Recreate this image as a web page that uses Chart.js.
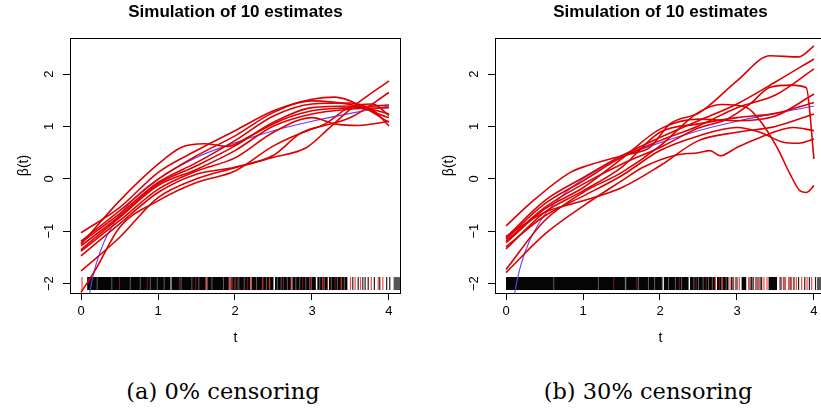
<!DOCTYPE html>
<html>
<head>
<meta charset="utf-8">
<script src="https://cdn.jsdelivr.net/npm/chart.js@4.4.0/dist/chart.umd.min.js"></script>
<style>
  html, body { margin: 0; padding: 0; background: #fff; overflow: hidden; width: 821px; height: 409px; }
  .panel { position: absolute; top: 0; }
  .cap { position: absolute; top: 378px; font-family: "DejaVu Serif", serif; font-size: 22.5px; line-height: 26px;
         white-space: nowrap; transform: translateX(-50%); color: #000; }
</style>
</head>
<body>
<canvas id="chartA" class="panel" width="410" height="350" style="left:0px"></canvas>
<canvas id="chartB" class="panel" width="410" height="350" style="left:425px"></canvas>
<div class="cap" style="left:223px">(a) 0% censoring</div>
<div class="cap" style="left:648px">(b) 30% censoring</div>
<script>
// tick labels
const xTickVals = [0, 1, 2, 3, 4];
const yTickVals = [-2, -1, 0, 1, 2];

// true beta(t)
const trueBeta = [[0.11,-2.2],[0.15,-1.9],[0.2,-1.61],[0.3,-1.2],[0.4,-0.92],[0.5,-0.69],[0.75,-0.29],[1,0],
  [1.5,0.41],[2,0.69],[2.5,0.92],[3,1.1],[3.5,1.25],[4,1.39]];

// (a) 0% censoring: 10 estimates, [t, beta] knots
const estA = [
  [[0,-1.25],[0.5,-0.42],[1,0.28],[1.3,0.6],[1.6,0.67],[1.9,0.62],[2.2,0.82],[2.6,1.12],[3,1.3],[3.5,1.36],[4,1.41]],
  [[0,-1.03],[0.5,-0.55],[1,0.12],[1.5,0.54],[2,0.92],[2.5,1.3],[3,1.52],[3.3,1.56],[3.6,1.42],[4,1.08]],
  [[0,-1.19],[0.5,-0.61],[1,-0.01],[1.5,0.44],[2,0.82],[2.5,1.27],[3,1.49],[3.5,1.42],[4,1.24]],
  [[0,-1.22],[0.5,-0.67],[1,-0.07],[1.5,0.31],[2,0.73],[2.5,1.2],[3,1.43],[3.5,1.45],[3.8,1.3],[4,1.01]],
  [[0,-1.28],[0.5,-0.71],[1,-0.1],[1.5,0.25],[2,0.63],[2.5,1.08],[3,1.36],[3.5,1.39],[4,1.17]],
  [[0,-1.35],[0.5,-0.74],[1,-0.13],[1.5,0.18],[2,0.54],[2.5,1.01],[3,1.24],[3.5,1.33],[4,1.36]],
  [[0,-1.38],[0.5,-0.8],[1,-0.2],[1.5,0.15],[2,0.4],[2.5,0.89],[3,1.17],[3.3,1.05],[3.6,1.02],[4,1.1]],
  [[0,-1.47],[0.5,-0.86],[1,-0.26],[1.5,0.09],[2,0.22],[2.5,0.45],[2.84,0.86],[3.17,1.05],[3.49,1.37],[3.79,1.43],[4,1.21]],
  [[0,-1.76],[0.5,-1.12],[1,-0.36],[1.5,0],[1.94,0.19],[2.49,0.41],[2.93,0.6],[3.23,0.98],[3.58,1.43],[4,1.87]],
  [[0,-2.17],[0.19,-1.73],[0.5,-0.93],[1,-0.42],[1.5,-0.07],[2,0.15],[2.5,0.63],[3,0.95],[3.5,1.17],[4,1.65]]
];

// (b) 30% censoring
const estB = [
  [[0,-0.9],[0.35,-0.42],[0.83,0.12],[1.05,0.25],[1.35,0.38],[1.6,0.47],[1.87,0.6],[2.13,1.05],[2.52,1.27],[3,1.87],[3.43,2.35],[3.8,2.33],[4,2.54]],
  [[0,-1.12],[0.5,-0.42],[1,0.02],[1.5,0.44],[2,0.79],[2.5,1.11],[3,1.43],[3.5,1.85],[4,2.29]],
  [[0,-1.15],[0.5,-0.48],[1,-0.04],[1.5,0.41],[2,0.73],[2.5,1.01],[3,1.36],[3.5,1.6],[4,2.1]],
  [[0,-1.19],[0.5,-0.55],[1,-0.1],[1.5,0.28],[2,0.6],[2.5,0.97],[2.87,1.14],[3.17,1.43],[3.43,1.75],[3.7,1.79],[3.9,1.74],[4,0.38]],
  [[0,-1.22],[0.5,-0.58],[1,-0.17],[1.5,0.38],[2,0.95],[2.5,1.14],[3,1.11],[3.5,1.2],[4,1.62]],
  [[0,-1.34],[0.5,-0.64],[1,-0.23],[1.5,0.22],[2,0.89],[2.5,1.05],[3,1.17],[3.5,1.25],[4,1.46]],
  [[0,-1.73],[0.5,-0.8],[1,-0.26],[1.5,0.12],[2,0.63],[2.5,1.27],[2.8,1.42],[3.13,1.36],[3.3,1.11],[3.52,0.6],[3.69,0.09],[3.82,-0.23],[3.9,-0.26],[4,-0.13]],
  [[0,-1.79],[0.5,-1.06],[1,-0.52],[1.5,-0.04],[1.78,0.22],[2.2,0.45],[2.5,0.5],[2.65,0.54],[2.78,0.44],[3,0.6],[3.3,0.79],[3.73,0.98],[4,0.92]],
  [[0,-1.3],[0.5,-0.71],[1,-0.33],[1.5,0.06],[2,0.54],[2.5,0.82],[3,0.98],[3.3,0.89],[3.6,0.7],[3.8,0.68],[4,0.76]],
  [[0,-1.1],[0.5,-0.64],[1,-0.42],[1.5,-0.17],[2,0.25],[2.5,0.73],[3,0.89],[3.5,1],[4,1.24]]
];

// rug of observed times: dense stretches, light gaps, dark-red and red (censored) ticks, lone black ticks
const rugBlockA = [[0.08,1.16],[1.175,1.62],[1.64,1.92],[1.94,2.2],[2.215,2.5],[2.52,2.73],[2.745,3.05],[3.07,3.2],[3.22,3.46]];
const rugGreyBlockA = [[4.06,4.15]];
const rugGapA = [0.21,0.4,0.64,0.77,0.9,0.99,1.08,1.165,1.3,1.44,1.53,
  1.7,1.85,2.0,2.05,2.12,2.28,2.41,2.55,2.6,2.68,2.79,2.84,2.92,2.97,3.1,3.16,3.25,3.33,3.42];
const rugDarkRedA = [0.5,0.86,1.28,1.49,2.03,2.16,2.63,2.88,3.2,3.3];
const rugRedA = [0.013,1.63,1.93,1.96,2.21,2.36,2.45,2.73,2.99,3.14,3.38,3.5,3.56,3.63,3.77,3.86,3.92];
const rugBlackA = [3.53,3.6,3.66,3.69,3.73,3.81,3.88,3.97,4.01];

const rugBlockB = [[0,1.55],[1.56,2.03],[2.05,2.37],[2.39,2.72],[2.74,2.89],[3.06,3.12],[3.41,3.52]];
const rugGreyBlockB = [[4.04,4.12]];
const rugGapB = [0.62,1.2,1.55,1.72,1.85,1.93,2.03,2.11,2.2,2.28,2.37,2.44,2.5,2.56,2.63,2.68,2.72,2.8,2.86];
const rugDarkRedB = [1.4,1.7,2.25,2.47,2.6,2.77];
const rugRedB = [2.72,2.81,2.91,2.98,3.03,3.15,3.24,3.28,3.35,3.39,3.58,3.63,3.67,3.71,3.77,3.84,3.91,3.97];
const rugBlackB = [2.93,2.95,3,3.17,3.19,3.21,3.26,3.3,3.32,3.56,3.61,3.69,3.74,3.8,3.88,3.94,4.02];

const RUG_MID = -2.0, RUG_LO = -2.125, RUG_HI = -1.875;

function ticksToPts(ts) {
  const pts = [];
  ts.forEach(t => { pts.push({x: t, y: RUG_LO}, {x: t, y: RUG_HI}, {x: t, y: null}); });
  return pts;
}
function blocksToPts(bs) {
  const pts = [];
  bs.forEach(b => { pts.push({x: b[0], y: RUG_MID}, {x: b[1], y: RUG_MID}, {x: b[1], y: null}); });
  return pts;
}
function pairsToPts(p) { return p.map(d => ({x: d[0], y: d[1]})); }
function fmt(v) { return String(v).replace('-', '\u2212'); }

const boxPlugin = {
  id: 'box',
  afterDraw(chart) {
    const {ctx, chartArea: a} = chart;
    ctx.save();
    ctx.strokeStyle = '#000';
    ctx.lineWidth = 1;
    ctx.strokeRect(a.left + 0.5, a.top + 0.5, a.right - a.left - 1, a.bottom - a.top);
    ctx.restore();
  }
};

function makePanel(id, est, rug) {
  // higher order is drawn first
  const rugLine = {showLine: true, pointRadius: 0, tension: 0, spanGaps: false, borderCapStyle: 'butt'};
  const datasets = [
    Object.assign({data: blocksToPts(rug.blocks), borderColor: '#050505', borderWidth: 13, order: 9}, rugLine),
    Object.assign({data: blocksToPts(rug.grey), borderColor: '#555', borderWidth: 13, order: 8}, rugLine),
    Object.assign({data: ticksToPts(rug.gaps), borderColor: 'rgba(105,105,105,0.9)', borderWidth: 1, order: 7}, rugLine),
    Object.assign({data: ticksToPts(rug.darkRed), borderColor: 'rgba(140,25,25,0.9)', borderWidth: 1, order: 6}, rugLine),
    Object.assign({data: ticksToPts(rug.blacks), borderColor: '#222', borderWidth: 1.2, order: 5}, rugLine),
    Object.assign({data: ticksToPts(rug.reds), borderColor: 'rgba(255,45,45,0.9)', borderWidth: 1.2, order: 4}, rugLine),
    {data: pairsToPts(trueBeta), borderColor: 'rgb(100,60,255)', borderWidth: 1.1, pointRadius: 0,
     cubicInterpolationMode: 'monotone', order: 2}
  ];
  est.forEach(c => datasets.push({data: pairsToPts(c), borderColor: '#dc0000', borderWidth: 1.6, pointRadius: 0,
    cubicInterpolationMode: 'monotone', order: 1}));

  new Chart(document.getElementById(id), {
    type: 'line',
    data: {datasets: datasets},
    plugins: [boxPlugin],
    options: {
      responsive: false,
      animation: false,
      devicePixelRatio: 1,
      layout: {padding: {left: 0, right: 9, top: 0, bottom: 0}},
      plugins: {
        legend: {display: false},
        tooltip: {enabled: false},
        title: {
          display: true, text: 'Simulation of 10 estimates', fullSize: false, color: '#000',
          font: {family: '"Liberation Sans", Arial, sans-serif', size: 17, weight: 'bold'},
          padding: {top: 2, bottom: 15.6}
        }
      },
      scales: {
        x: {
          type: 'linear', min: -0.143, max: 4.156,
          afterBuildTicks: s => { s.ticks = xTickVals.map(v => ({value: v})); },
          afterFit: s => { s.height = 57; },
          grid: {display: true, drawOnChartArea: false, drawTicks: true, tickLength: 7, color: '#000', lineWidth: 1},
          border: {display: false},
          ticks: {color: '#000', font: {family: '"Liberation Sans", Arial, sans-serif', size: 13}, padding: 4,
                  maxRotation: 0, callback: v => fmt(v)},
          title: {display: true, text: 't', color: '#000', font: {family: '"Liberation Sans", Arial, sans-serif', size: 14},
                  padding: {top: 0, bottom: 3}}
        },
        y: {
          type: 'linear', min: -2.18, max: 2.69,
          afterBuildTicks: s => { s.ticks = yTickVals.map(v => ({value: v})); },
          afterFit: s => { s.width = 70; },
          grid: {display: true, drawOnChartArea: false, drawTicks: true, tickLength: 7, color: '#000', lineWidth: 1},
          border: {display: false},
          ticks: {color: '#000', font: {family: '"Liberation Sans", Arial, sans-serif', size: 13}, padding: 6,
                  minRotation: 90, maxRotation: 90, crossAlign: 'center', callback: v => fmt(v)},
          title: {display: true, text: '\u03b2(t)', color: '#000', font: {family: '"Liberation Sans", Arial, sans-serif', size: 14},
                  padding: {top: 16, bottom: 0}}
        }
      }
    }
  });
}

makePanel('chartA', estA, {blocks: rugBlockA, grey: rugGreyBlockA, gaps: rugGapA, darkRed: rugDarkRedA, reds: rugRedA, blacks: rugBlackA});
makePanel('chartB', estB, {blocks: rugBlockB, grey: rugGreyBlockB, gaps: rugGapB, darkRed: rugDarkRedB, reds: rugRedB, blacks: rugBlackB});
</script>
</body>
</html>
